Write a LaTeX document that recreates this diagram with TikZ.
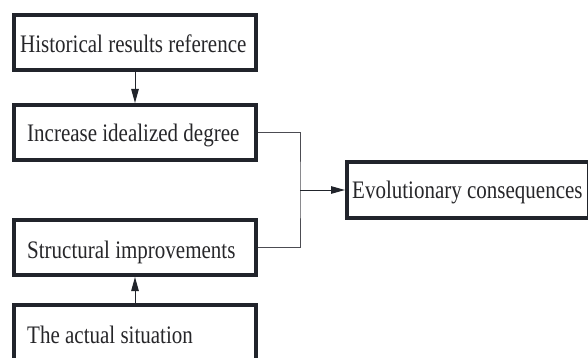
\documentclass[tikz,border=0pt]{standalone}
\usepackage{fontspec}
\usepackage{graphicx}
\setmainfont{Liberation Serif}
\usetikzlibrary{arrows.meta}
\definecolor{boxc}{rgb}{0.13,0.14,0.17}
\definecolor{txtc}{rgb}{0.15,0.15,0.16}
\definecolor{linec}{rgb}{0.3,0.3,0.32}
\newcommand{\stretchtxt}[1]{\scalebox{1}[1.2]{#1}}
\begin{document}
\begin{tikzpicture}[x=1pt,y=-1pt,
  box/.style={draw=boxc, line width=4pt, rectangle, minimum width=242pt, minimum height=55pt, inner sep=0pt},
  lbl/.style={anchor=base west, inner sep=0pt, text=txtc, font=\fontsize{21}{25}\selectfont},
  conn/.style={draw=linec, line width=1pt},
  arr/.style={line width=1pt, draw=boxc, -{Triangle[length=14pt,width=7.5pt]}}]
\useasboundingbox (0,0) rectangle (588,358);
\begin{scope}
\clip (0,0) rectangle (588,358);
\node[box] (b1) at (135,42.5) {};
\node[box] (b2) at (135,132.5) {};
\node[box] (b3) at (135,247.5) {};
\node[box, minimum height=75pt] (b4) at (135,342.5) {};
\node[box, minimum height=56pt] (b5) at (468,190) {};
\end{scope}
\node[lbl] (t1) at (20,53) {\stretchtxt{Historical results reference}};
\node[lbl] (t2) at (27,142) {\stretchtxt{Increase idealized degree}};
\node[lbl] (t3) at (27,258) {\stretchtxt{Structural improvements}};
\node[lbl] (t4) at (27,343) {\stretchtxt{The actual situation}};
\node[lbl] (t5) at (352,198) {\stretchtxt{Evolutionary consequences}};
\coordinate (j) at (300,190);
\draw[arr] (b1.south) -- (b2.north);
\draw[arr] (b4.north) -- (b3.south);
\draw[conn] (b2.east) -| (j) |- (b3.east);
\draw[arr] (j) -- (b5.west);
\end{tikzpicture}
\end{document}
